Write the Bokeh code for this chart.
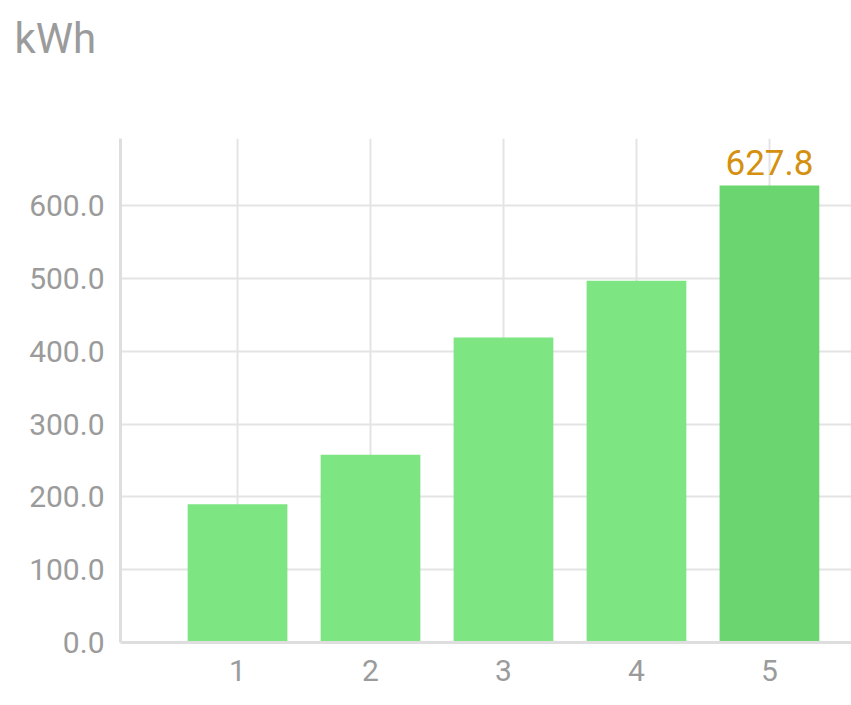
from bokeh.plotting import figure
from bokeh.models import Range1d, FixedTicker, PrintfTickFormatter
from bokeh.core.properties import value
from bokeh.embed import file_html
from bokeh.resources import INLINE

categories = [1, 2, 3, 4, 5]
tick_labels = ["1", "2", "3", "4", "5"]
energy_kwh = [190.0, 258.0, 419.0, 497.0, 627.8]
bar_colors = ["#7de682", "#7de682", "#7de682", "#7de682", "#6bd56f"]
y_ticks = [0, 100, 200, 300, 400, 500, 600]
unit_label = "kWh"

FONT = "Roboto"
GREY = "#9b9b9b"

p = figure(width=851, height=705, output_backend="svg", toolbar_location=None,
           x_range=Range1d(0.12, 5.617), y_range=Range1d(0, 692.3),
           min_border_left=120, min_border_right=0, min_border_top=138,
           min_border_bottom=63)
p.outline_line_color = None
p.background_fill_color = "white"
p.border_fill_color = "white"

p.title.text = unit_label
p.title.align = "left"
p.title.offset = -106
p.title.vertical_align = "top"
p.title.text_font = FONT
p.title.text_font_size = "42px"
p.title.text_font_style = "normal"
p.title.text_color = GREY
try:
    p.title.padding = (0, 0, 0, 69)
    p.title.standoff = 10
except Exception:
    p.title.standoff = 76

p.vbar(x=categories, top=energy_kwh, width=0.75, fill_color=bar_colors, line_color=None)

last = len(energy_kwh) - 1
p.text(x=[categories[last]], y=[energy_kwh[last]], text=["%.1f" % energy_kwh[last]],
       text_align="center", text_baseline="alphabetic", y_offset=-23,
       text_font=value(FONT), text_font_size="35px", text_color="#d4900e")

for ax in (p.xaxis[0], p.yaxis[0]):
    ax.axis_line_color = "#dedede"
    ax.axis_line_width = 3
    ax.major_tick_line_color = None
    ax.minor_tick_line_color = None
    ax.major_tick_out = 0
    ax.major_tick_in = 0
    ax.major_label_text_font = FONT
    ax.major_label_text_font_size = "30px"
    ax.major_label_text_color = GREY

p.xaxis.ticker = FixedTicker(ticks=categories)
p.xaxis.major_label_overrides = {c: t for c, t in zip(categories, tick_labels)}
p.xaxis.major_label_standoff = 17
p.yaxis.ticker = FixedTicker(ticks=y_ticks)
p.yaxis.formatter = PrintfTickFormatter(format="%.1f")
p.yaxis.major_label_standoff = 16

p.xgrid.ticker = FixedTicker(ticks=categories)
p.ygrid.ticker = FixedTicker(ticks=y_ticks)
for g in (p.xgrid[0], p.ygrid[0]):
    g.grid_line_color = "#e4e4e4"
    g.grid_line_width = 2

open("out.html", "w").write(file_html(p, INLINE))
